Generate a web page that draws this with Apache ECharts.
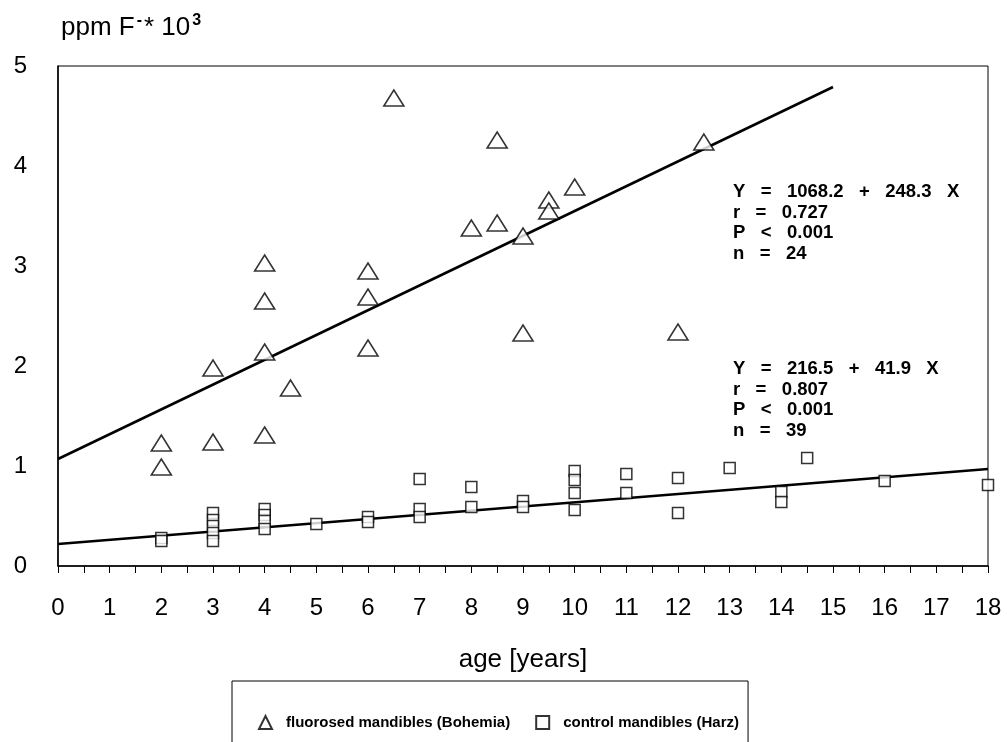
<!DOCTYPE html>
<html>
<head>
<meta charset="utf-8">
<script src="https://cdn.jsdelivr.net/npm/echarts@6/dist/echarts.min.js"></script>
<style>
html, body { margin: 0; padding: 0; background: #fff; }
#chart { width: 1007px; height: 742px; }
</style>
</head>
<body>
<div id="chart"></div>
<script>
// fluorosed mandibles (Bohemia) - [age, ppm F * 10^3]
var fluorosed = [
    [2, 1.23], [2, 0.99], [3, 1.24], [3, 1.98],
    [4, 3.03], [4, 2.65], [4, 2.14], [4, 1.31], [4.5, 1.78],
    [6, 2.95], [6, 2.69], [6, 2.18], [6.5, 4.68],
    [8, 3.38], [8.5, 4.26], [8.5, 3.43], [9, 3.30], [9, 2.33],
    [9.5, 3.66], [9.5, 3.55], [10, 3.79], [12, 2.34], [12.5, 4.24]
];
// control mandibles (Harz)
var control = [
    [2, 0.28], [2, 0.25],
    [3, 0.53], [3, 0.46], [3, 0.40], [3, 0.33], [3, 0.25],
    [4, 0.57], [4, 0.51], [4, 0.45], [4, 0.37],
    [5, 0.42], [6, 0.49], [6, 0.44],
    [7, 0.87], [7, 0.57], [7, 0.49],
    [8, 0.79], [8, 0.59], [9, 0.65], [9, 0.59],
    [10, 0.95], [10, 0.86], [10, 0.73], [10, 0.56],
    [11, 0.92], [11, 0.73], [12, 0.88], [12, 0.53],
    [13, 0.98], [14, 0.74], [14, 0.64], [14.5, 1.08],
    [16, 0.85], [18, 0.81]
];
// regression lines (end points)
var fitFluorosed = [[0, 1.07], [15, 4.79]];
var fitControl = [[0, 0.22], [18, 0.97]];

var statsFluorosed = ['Y   =   1068.2   +   248.3   X', 'r   =   0.727', 'P   <   0.001', 'n   =   24'];
var statsControl = ['Y   =   216.5   +   41.9   X', 'r   =   0.807', 'P   <   0.001', 'n   =   39'];

var FONT = '"Liberation Sans", Arial, Helvetica, sans-serif';

var myChart = echarts.init(document.getElementById('chart'));

var option = {
    backgroundColor: '#fff',
    animation: false,
    textStyle: { fontFamily: FONT, color: '#000' },
    title: {
        left: 56,
        top: 8,
        text: '{a|ppm F}{s|-}{a|* 10}{s|3}',
        textStyle: {
            rich: {
                a: { fontFamily: FONT, fontSize: 26, color: '#000', fontWeight: 'normal' },
                s: { fontFamily: FONT, fontSize: 16, color: '#000', padding: [0, 2, 14, 2] }
            }
        }
    },
    grid: {
        left: 58, right: 19, top: 66, bottom: 176,
        show: true, borderColor: '#000', borderWidth: 1
    },
    legend: {
        data: ['fluorosed mandibles (Bohemia)', 'control mandibles (Harz)'],
        left: 232,
        top: 681,
        orient: 'horizontal',
        borderColor: '#000',
        borderWidth: 1,
        padding: [34, 9, 40, 26],
        itemGap: 25,
        itemWidth: 13,
        itemHeight: 13,
        textStyle: {
            fontFamily: FONT, fontSize: 15, fontWeight: 'bold', color: '#000',
            padding: [0, 0, 0, 9]
        }
    },
    xAxis: {
        type: 'value',
        min: 0,
        max: 18,
        interval: 0.5,
        name: 'age [years]',
        nameLocation: 'middle',
        nameGap: 81,
        nameTextStyle: { fontFamily: FONT, fontSize: 26, color: '#000' },
        axisLine: { show: true, lineStyle: { color: '#000', width: 1.5 } },
        axisTick: { show: true, inside: false, length: 7, lineStyle: { color: '#000' } },
        axisLabel: {
            margin: 30,
            fontFamily: FONT, fontSize: 24, color: '#000',
            formatter: function (v) { return v % 1 === 0 ? String(v) : ''; }
        },
        splitLine: { show: false }
    },
    yAxis: {
        type: 'value',
        min: 0,
        max: 5,
        interval: 1,
        axisLine: { show: true, lineStyle: { color: '#000', width: 1.5 } },
        axisTick: { show: false },
        axisLabel: { margin: 31, fontFamily: FONT, fontSize: 24, color: '#000' },
        splitLine: { show: false }
    },
    graphic: [
        {
            type: 'text', left: 733, top: 182,
            style: { text: statsFluorosed.join('\n'), font: 'bold 18.5px ' + FONT, fill: '#000', lineHeight: 20.5 }
        },
        {
            type: 'text', left: 733, top: 359,
            style: { text: statsControl.join('\n'), font: 'bold 18.5px ' + FONT, fill: '#000', lineHeight: 20.5 }
        }
    ],
    series: [
        {
            name: 'fit fluorosed',
            type: 'line',
            data: fitFluorosed,
            symbol: 'none',
            lineStyle: { color: '#000', width: 2.5 },
            z: 2,
            silent: true
        },
        {
            name: 'fit control',
            type: 'line',
            data: fitControl,
            symbol: 'none',
            lineStyle: { color: '#000', width: 2.5 },
            z: 2,
            silent: true
        },
        {
            name: 'fluorosed mandibles (Bohemia)',
            type: 'scatter',
            data: fluorosed,
            symbol: 'triangle',
            symbolSize: [20, 16],
            itemStyle: { color: '#fff', borderColor: '#000', borderWidth: 1.6 },
            z: 3
        },
        {
            name: 'control mandibles (Harz)',
            type: 'scatter',
            data: control,
            symbol: 'rect',
            symbolSize: 11,
            itemStyle: { color: '#fff', borderColor: '#000', borderWidth: 1.5 },
            z: 3
        }
    ]
};

myChart.setOption(option);
</script>
</body>
</html>
